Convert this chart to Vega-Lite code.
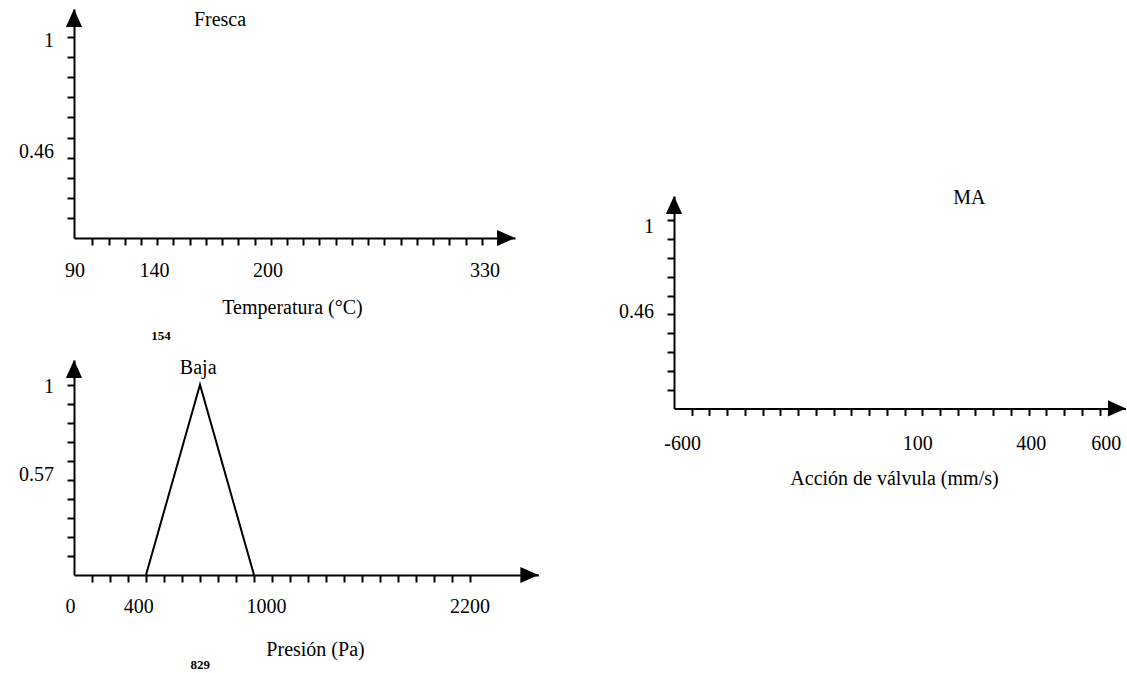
{
  "$schema": "https://vega.github.io/schema/vega-lite/v6.json",
  "padding": {"left": 19, "top": 9, "right": 0, "bottom": 0},
  "background": "white",
  "bounds": "full",
  "spacing": 80,
  "hconcat": [
    {
      "vconcat": [
        {
          "width": 441,
          "height": 229,
          "encoding": {
            "x": {"field": "x", "type": "quantitative", "scale": {"domain": [-0.128, 27.05], "nice": false, "zero": false},
              "axis": {"values": [1,2,3,4,5,6,7,8,9,10,11,12,13,14,15,16,17,18,19,20,21,22,23,24,25], "labels": false, "tickSize": 7, "tickWidth": 2, "tickColor": "black", "domainColor": "black", "domainWidth": 2, "grid": false,
                "title": "Temperatura (°C)", "titleFont": "Liberation Serif", "titleFontSize": 20, "titleFontWeight": "normal", "titleColor": "black", "titleX": 218, "titleY": 69, "titleBaseline": "middle", "titleAlign": "center"}},
            "y": {"field": "y", "type": "quantitative", "scale": {"domain": [0, 1.14], "nice": false, "zero": false},
              "axis": {"values": [0.1,0.2,0.3,0.4,0.5,0.6,0.7,0.8,0.9,1.0], "labels": false, "tickSize": 7, "tickWidth": 2, "tickColor": "black", "domainColor": "black", "domainWidth": 2, "grid": false, "title": null}}
          },
          "layer": [
            {
              "data": {"values": [{"x": -0.128, "y": 1.095, "d": "up"}, {"x": 26.5, "y": 0, "d": "right"}]},
              "mark": {"type": "point", "filled": true, "size": 324, "color": "black", "opacity": 1, "strokeWidth": 0},
              "encoding": {"shape": {"field": "d", "type": "nominal", "scale": {"domain": ["up", "right"], "range": ["M-0.9,1L0,-1L0.9,1Z", "M-1,-0.9L1,0L-1,0.9Z"]}, "legend": null}}
            },
            {
              "data": {"values": [{"x": 8.87, "y": 1.085, "t": "Fresca"}]},
              "mark": {"type": "text", "font": "Liberation Serif", "fontSize": 20, "color": "black", "baseline": "middle"},
              "encoding": {"text": {"field": "t"}}
            },
            {
              "data": {"values": [{"x": -0.07, "y": 0, "t": "90"}, {"x": 4.83, "y": 0, "t": "140"}, {"x": 11.83, "y": 0, "t": "200"}, {"x": 25.2, "y": 0, "t": "330"}]},
              "mark": {"type": "text", "font": "Liberation Serif", "fontSize": 20, "color": "black", "baseline": "middle", "dy": 33},
              "encoding": {"text": {"field": "t"}}
            },
            {
              "data": {"values": [{"x": -0.128, "y": 0.98, "t": "1"}, {"x": -0.128, "y": 0.43, "t": "0.46"}]},
              "mark": {"type": "text", "font": "Liberation Serif", "fontSize": 20, "color": "black", "baseline": "middle", "align": "right", "dx": -20},
              "encoding": {"text": {"field": "t"}}
            },
            {
              "data": {"values": [{"x": 5.23, "y": 0, "t": "154"}]},
              "mark": {"type": "text", "font": "Liberation Serif", "fontSize": 13, "fontWeight": "bold", "color": "black", "baseline": "middle", "dy": 98},
              "encoding": {"text": {"field": "t"}}
            }
          ]
        },
        {
          "width": 464.4,
          "height": 215,
          "encoding": {
            "x": {"field": "x", "type": "quantitative", "scale": {"domain": [0, 25.8], "nice": false, "zero": false},
              "axis": {"values": [1,2,3,4,5,6,7,8,9,10,11,12,13,14,15,16,17,18,19,20,21,22], "labels": false, "tickSize": 7, "tickWidth": 2, "tickColor": "black", "domainColor": "black", "domainWidth": 2, "grid": false,
                "title": "Presión (Pa)", "titleFont": "Liberation Serif", "titleFontSize": 20, "titleFontWeight": "normal", "titleColor": "black", "titleX": 241, "titleY": 74, "titleBaseline": "middle", "titleAlign": "center"}},
            "y": {"field": "y", "type": "quantitative", "scale": {"domain": [0, 1.13], "nice": false, "zero": false},
              "axis": {"values": [0.1,0.2,0.3,0.4,0.5,0.6,0.7,0.8,0.9,1.0], "labels": false, "tickSize": 7, "tickWidth": 2, "tickColor": "black", "domainColor": "black", "domainWidth": 2, "grid": false, "title": null}}
          },
          "layer": [
            {
              "data": {"values": [{"x": 4, "y": 0}, {"x": 7, "y": 1}, {"x": 10, "y": 0}]},
              "mark": {"type": "line", "color": "black", "strokeWidth": 2}
            },
            {
              "data": {"values": [{"x": 0, "y": 1.083, "d": "up"}, {"x": 25.3, "y": 0, "d": "right"}]},
              "mark": {"type": "point", "filled": true, "size": 324, "color": "black", "opacity": 1, "strokeWidth": 0},
              "encoding": {"shape": {"field": "d", "type": "nominal", "scale": {"domain": ["up", "right"], "range": ["M-0.9,1L0,-1L0.9,1Z", "M-1,-0.9L1,0L-1,0.9Z"]}, "legend": null}}
            },
            {
              "data": {"values": [{"x": 6.9, "y": 1.088, "t": "Baja"}]},
              "mark": {"type": "text", "font": "Liberation Serif", "fontSize": 20, "color": "black", "baseline": "middle"},
              "encoding": {"text": {"field": "t"}}
            },
            {
              "data": {"values": [{"x": -0.2, "y": 0, "t": "0"}, {"x": 3.6, "y": 0, "t": "400"}, {"x": 10.7, "y": 0, "t": "1000"}, {"x": 22.0, "y": 0, "t": "2200"}]},
              "mark": {"type": "text", "font": "Liberation Serif", "fontSize": 20, "color": "black", "baseline": "middle", "dy": 32},
              "encoding": {"text": {"field": "t"}}
            },
            {
              "data": {"values": [{"x": 0, "y": 0.99, "t": "1"}, {"x": 0, "y": 0.526, "t": "0.57"}]},
              "mark": {"type": "text", "font": "Liberation Serif", "fontSize": 20, "color": "black", "baseline": "middle", "align": "right", "dx": -20},
              "encoding": {"text": {"field": "t"}}
            },
            {
              "data": {"values": [{"x": 7.02, "y": 0, "t": "829"}]},
              "mark": {"type": "text", "font": "Liberation Serif", "fontSize": 13, "fontWeight": "bold", "color": "black", "baseline": "middle", "dy": 90},
              "encoding": {"text": {"field": "t"}}
            }
          ]
        }
      ],
      "spacing": 122,
      "bounds": "flush"
    },
    {
      "vconcat": [
        {
          "width": 10,
          "height": 186.6,
          "data": {"values": [{"t": ""}]},
          "mark": {"type": "text", "text": ""}
        },
        {
          "width": 452,
          "height": 212.4,
          "encoding": {
            "x": {"field": "x", "type": "quantitative", "scale": {"domain": [0, 25.49], "nice": false, "zero": false},
              "axis": {"values": [1,2,3,4,5,6,7,8,9,10,11,12,13,14,15,16,17,18,19,20,21,22,23,24], "labels": false, "tickSize": 7, "tickWidth": 2, "tickColor": "black", "domainColor": "black", "domainWidth": 2, "grid": false,
                "title": "Acción de válvula (mm/s)", "titleFont": "Liberation Serif", "titleFontSize": 20, "titleFontWeight": "normal", "titleColor": "black", "titleX": 220, "titleY": 70, "titleBaseline": "middle", "titleAlign": "center"}},
            "y": {"field": "y", "type": "quantitative", "scale": {"domain": [0, 1.13], "nice": false, "zero": false},
              "axis": {"values": [0.1,0.2,0.3,0.4,0.5,0.6,0.7,0.8,0.9,1.0], "labels": false, "tickSize": 7, "tickWidth": 2, "tickColor": "black", "domainColor": "black", "domainWidth": 2, "grid": false, "title": null}}
          },
          "layer": [
            {
              "data": {"values": [{"x": 0, "y": 1.082, "d": "up"}, {"x": 24.98, "y": 0, "d": "right"}]},
              "mark": {"type": "point", "filled": true, "size": 324, "color": "black", "opacity": 1, "strokeWidth": 0},
              "encoding": {"shape": {"field": "d", "type": "nominal", "scale": {"domain": ["up", "right"], "range": ["M-0.9,1L0,-1L0.9,1Z", "M-1,-0.9L1,0L-1,0.9Z"]}, "legend": null}}
            },
            {
              "data": {"values": [{"x": 16.66, "y": 1.117, "t": "MA"}]},
              "mark": {"type": "text", "font": "Liberation Serif", "fontSize": 20, "color": "black", "baseline": "middle"},
              "encoding": {"text": {"field": "t"}}
            },
            {
              "data": {"values": [{"x": 0.49, "y": 0, "t": "-600"}, {"x": 13.75, "y": 0, "t": "100"}, {"x": 20.14, "y": 0, "t": "400"}, {"x": 24.37, "y": 0, "t": "600"}]},
              "mark": {"type": "text", "font": "Liberation Serif", "fontSize": 20, "color": "black", "baseline": "middle", "dy": 36},
              "encoding": {"text": {"field": "t"}}
            },
            {
              "data": {"values": [{"x": 0, "y": 0.964, "t": "1"}, {"x": 0, "y": 0.512, "t": "0.46"}]},
              "mark": {"type": "text", "font": "Liberation Serif", "fontSize": 20, "color": "black", "baseline": "middle", "align": "right", "dx": -20},
              "encoding": {"text": {"field": "t"}}
            }
          ]
        }
      ],
      "spacing": 0,
      "bounds": "flush"
    }
  ],
  "config": {
    "view": {"stroke": null},
    "font": "Liberation Serif"
  }
}
